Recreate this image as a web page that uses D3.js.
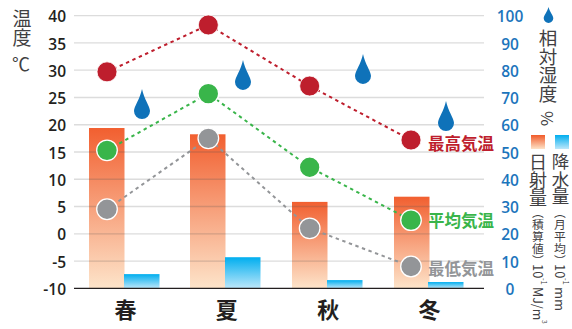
<!DOCTYPE html>
<html lang="ja">
<head>
<meta charset="utf-8">
<script src="https://cdn.jsdelivr.net/npm/d3@7"></script>
<style>
html,body{margin:0;padding:0;background:#fff}
svg{display:block}
text{font-family:"Noto Sans CJK JP","Noto Sans",sans-serif}
.num{font-family:"Open Sans","Noto Sans",sans-serif;font-weight:600}
</style>
</head>
<body>
<svg id="chart" width="572" height="329"></svg>
<script>
const seasons = ["春", "夏", "秋", "冬"];
const tempHigh = [29.7, 38.3, 27.1, 17.2];
const tempMean = [15.3, 25.7, 12.2, 2.5];
const tempLow = [4.5, 17.5, 1, -6];
const humidity = [65, 75.7, 77.9, 60.6];
const sunshine = [58.8, 56.5, 31.7, 33.6];
const rainfall = [5.2, 11.4, 3, 2.3];
const tempTicks = [-10, -5, 0, 5, 10, 15, 20, 25, 30, 35, 40];
const rightTicks = [0, 10, 20, 30, 40, 50, 60, 70, 80, 90, 100];
const seriesNames = ["最高気温", "平均気温", "最低気温"];

const svg = d3.select("#chart");
const yTemp = d3.scaleLinear().domain([-10, 40]).range([288.3, 15.7]);
const yRight = d3.scaleLinear().domain([0, 100]).range([288.3, 15.7]);
const x = d3.scalePoint().domain(seasons).range([107, 411]);
const plotLeft = 74, plotRight = 484;

// Bar fills
const defs = svg.append("defs");
function barGradient(id, top, bottom) {
  const g = defs.append("linearGradient").attr("id", id).attr("x1", 0).attr("x2", 0).attr("y1", 0).attr("y2", 1);
  g.append("stop").attr("offset", 0).attr("stop-color", top);
  g.append("stop").attr("offset", 1).attr("stop-color", bottom);
}
barGradient("sunFill", "#f15a29", "#fde3c8");
barGradient("rainFill", "#00aeef", "#bde7fa");

// Grid
const gridG = svg.append("g");
gridG.selectAll("line").data(tempTicks.slice(1)).join("line")
  .attr("x1", plotLeft).attr("x2", plotRight)
  .attr("y1", d => yTemp(d)).attr("y2", d => yTemp(d))
  .attr("stroke", "#dcdcdc").attr("stroke-width", 1.3);

// Bars
const sunX = [89, 190, 292, 394], rainX = [124, 225, 327, 428];
const barW = 35.5;
const bars = svg.append("g");
bars.selectAll("rect.sun").data(sunshine).join("rect").attr("class", "sun")
  .attr("x", (d, i) => sunX[i]).attr("width", barW)
  .attr("y", d => yRight(d)).attr("height", d => yRight(0) - yRight(d))
  .attr("fill", "url(#sunFill)").attr("fill-opacity", 0.97);
bars.selectAll("rect.rain").data(rainfall).join("rect").attr("class", "rain")
  .attr("x", (d, i) => rainX[i]).attr("width", barW)
  .attr("y", d => yRight(d)).attr("height", d => yRight(0) - yRight(d))
  .attr("fill", "url(#rainFill)");

// Grid shows through the bars faintly
const overlay = svg.append("g").attr("opacity", 0.22);
sunshine.forEach((v, i) => {
  tempTicks.slice(1).filter(t => yTemp(t) > yRight(v)).forEach(t => {
    overlay.append("line").attr("x1", sunX[i]).attr("x2", sunX[i] + barW)
      .attr("y1", yTemp(t)).attr("y2", yTemp(t)).attr("stroke", "#555").attr("stroke-width", 1.3);
  });
});
svg.append("line").attr("x1", plotLeft).attr("x2", plotRight)
  .attr("y1", yTemp(-10)).attr("y2", yTemp(-10)).attr("stroke", "#231f20").attr("stroke-width", 1.3);

// Temperature series
const series = [
  { values: tempHigh, color: "#be1e2d", ring: false },
  { values: tempMean, color: "#39b54a", ring: true },
  { values: tempLow, color: "#939598", ring: true }
];
const lineGen = d3.line().x((d, i) => x(seasons[i])).y(d => yTemp(d));
series.forEach(s => {
  svg.append("path").attr("d", lineGen(s.values))
    .attr("fill", "none").attr("stroke", s.color)
    .attr("stroke-width", 2).attr("stroke-dasharray", "3.4 3.6");
});

// Rain-drop marker, centred on the round part of the drop
function drop(cx, cy, r, h) {
  return `M${cx},${cy - h}C${cx + r * 0.25},${cy - h * 0.55} ${cx + r},${cy - r * 0.55} ${cx + r},${cy}`
    + `A${r},${r} 0 0 1 ${cx - r},${cy}C${cx - r},${cy - r * 0.55} ${cx - r * 0.25},${cy - h * 0.55} ${cx},${cy - h}Z`;
}
const dropX = [142, 243, 363, 446];
svg.selectAll("path.drop").data(humidity).join("path").attr("class", "drop")
  .attr("d", (d, i) => drop(dropX[i], yRight(d), 8, 22))
  .attr("fill", "#0f72b9");
svg.append("path").attr("d", drop(548.5, 18.2, 4.8, 11.2)).attr("fill", "#0f72b9");

series.forEach(s => {
  svg.selectAll(null).data(s.values).join("circle")
    .attr("cx", (d, i) => x(seasons[i])).attr("cy", d => yTemp(d))
    .attr("r", s.ring ? 10.3 : 10)
    .attr("fill", s.color)
    .attr("stroke", "#fff").attr("stroke-width", s.ring ? 1.3 : 0.8);
});

// Axes
const leftAxis = d3.axisLeft(yTemp).tickValues(tempTicks).tickSize(0).tickPadding(0).tickFormat(d => String(d));
svg.append("g").attr("transform", "translate(66,1.2)").call(leftAxis)
  .call(g => g.select(".domain").remove())
  .selectAll("text").attr("class", "num").attr("font-size", 15.5).attr("fill", "#231f20");

const rightAxis = d3.axisRight(yRight).tickValues(rightTicks).tickSize(0).tickPadding(0);
svg.append("g").attr("transform", "translate(510,1.2)").call(rightAxis)
  .call(g => g.select(".domain").remove())
  .selectAll("text").attr("class", "num").attr("font-size", 15.5).attr("fill", "#1c75bc")
  .attr("text-anchor", "middle");

const catAxis = d3.axisBottom(d3.scalePoint().domain(seasons).range([125, 429])).tickSize(0).tickPadding(0);
svg.append("g").attr("transform", "translate(0,298)").call(catAxis)
  .call(g => g.select(".domain").remove())
  .selectAll("text").attr("font-size", 22).attr("font-weight", 700).attr("fill", "#231f20")
  .attr("dy", 20);

// Stacked vertical captions
function vtext(px, top, str, size, fill) {
  return svg.append("text")
    .attr("transform", `translate(${px},${top})`)
    .style("writing-mode", "vertical-rl")
    .attr("font-size", size).attr("fill", fill || "#414042")
    .attr("dominant-baseline", "central")
    .text(str);
}
const ink = "#414042";
vtext(22, 9, "温度", 19, ink);
svg.append("text").attr("x", 12).attr("y", 71).attr("font-size", 18).attr("fill", ink).text("℃");

vtext(548, 29, "相対湿度", 18.5, ink);
vtext(548, 111, "%", 16.5, ink);

// Legend swatches and captions for the bars
svg.append("rect").attr("x", 531).attr("y", 135).attr("width", 14).attr("height", 14).attr("fill", "url(#sunFill)");
svg.append("rect").attr("x", 555).attr("y", 135).attr("width", 14).attr("height", 14).attr("fill", "url(#rainFill)");

vtext(538, 153, "日射量", 18, ink);
vtext(538, 207, "（積算値）", 11.8, ink);
vtext(538, 264, "10", 13, ink);
vtext(544, 278, "-1", 7.5, ink);
vtext(538, 287, "MJ/m", 12.5, ink);
vtext(545, 320, "3", 6.5, ink);

vtext(560.5, 153, "降水量", 17.5, ink);
vtext(560, 207, "（月平均）", 11.8, ink);
vtext(560, 264, "10", 13, ink);
vtext(566, 278, "-1", 7.5, ink);
vtext(560, 287, "mm", 13, ink);

// Direct labels beside the last points
const labelY = [149.5, 226.5, 274.5];
seriesNames.forEach((n, i) => {
  svg.append("text").attr("x", 428).attr("y", labelY[i])
    .attr("font-size", 16.5).attr("font-weight", 700)
    .attr("fill", series[i].color).text(n);
});
</script>
</body>
</html>
